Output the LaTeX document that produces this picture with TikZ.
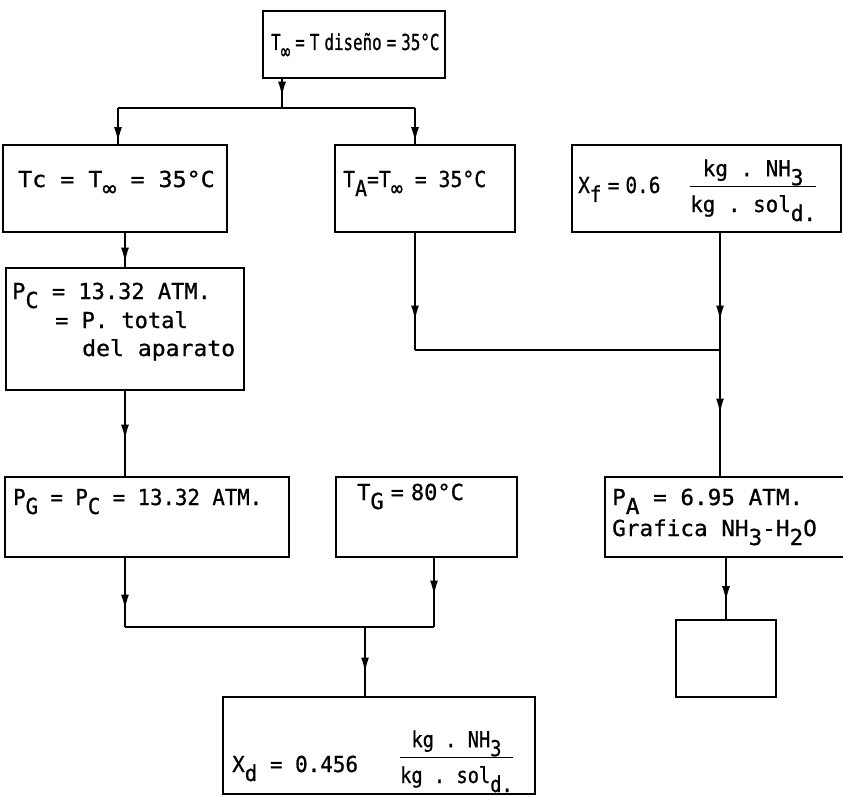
\documentclass[tikz,border=0pt]{standalone}
\usepackage{fontspec}
\setmonofont[FakeBold=0.8,AutoFakeBold=0.8]{DejaVu Sans Mono}
\usetikzlibrary{arrows.meta,decorations.markings,fit}

% lowered index, typewriter style
\newcommand{\dn}[1]{\raisebox{-9pt}{#1}}
% quotient with a rule between two lines
\newcommand{\ratio}[2]{%
  \begin{tabular}[b]{@{}c@{}}#1\\[1pt]\hline\rule{0pt}{25pt}#2\end{tabular}}
% horizontal squeeze of a typed line
\newcommand{\sx}[2]{\scalebox{#1}[1]{#2}}
% narrow typed space
\newcommand{\hs}{\hspace{7pt}}
\setlength{\arrayrulewidth}{1.5pt}

\begin{document}
\begin{tikzpicture}[x=1pt, y=-1pt,
    box/.style={draw, line width=1.8pt, inner sep=0pt, outer sep=0pt},
    txt/.style={font=\ttfamily\fontsize{22}{24}\selectfont, inner sep=0pt, anchor=base west},
    link/.style={line width=1.8pt},
    flow/.style={line width=1.8pt, postaction={decorate},
      decoration={markings, mark=at position #1 with {\arrow{Latex[length=15pt,width=8pt]}}}},
    flow/.default=0.6]
    \useasboundingbox (0,0) rectangle (843,797);

    % Boxes
    \node[box, fit={(263,11) (445,78)}] (top) {};
    \node[box, fit={(3,145) (227,232)}] (tc) {};
    \node[box, fit={(335,145) (515,232)}] (ta) {};
    \node[box, fit={(572,145) (841,232)}] (xf) {};
    \node[box, fit={(6,268) (244,390)}] (pc) {};
    \node[box, fit={(5,477) (289,557)}] (pg) {};
    \node[box, fit={(336,477) (517,557)}] (tg) {};
    \node[box, fit={(605,477) (850,557)}] (pa) {};
    \node[box, fit={(676,620) (776,697)}] (out) {};
    \node[box, fit={(223,697) (535,794)}] (xd) {};

    % Texts
    \node[txt] (ttop) at (271,50) {\sx{0.72}{T\dn{∞}\hs=\hs T\hs diseño\hs=\hs 35°C}};
    \node[txt] (ttc) at (18,187) {\sx{1.06}{Tc = T\dn{∞} = 35°C}};
    \node[txt] (tta) at (343,187) {\sx{0.9}{T\dn{A}=T\dn{∞} = 35°C}};
    \node[txt] (txf) at (578,193) {\sx{0.88}{X\dn{f}\hs=\hs 0.6}};
    \node[txt] (fxf) at (690,212) {\sx{0.95}{\ratio{kg . NH\dn{3}}{kg . sol\dn{d.}}}};
    \node[txt] (tpc1) at (12,299) {P\dn{C} = 13.32 ATM.};
    \node[txt] (tpc2) at (55,328) {= P. total};
    \node[txt] (tpc3) at (82,356) {\sx{1.05}{del aparato}};
    \node[txt] (tpg) at (13,505) {\sx{0.94}{P\dn{G} = P\dn{C} = 13.32 ATM.}};
    \node[txt] (ttg) at (357,500) {T\dn{G}\hs=\hs 80°C};
    \node[txt] (tpa1) at (612,505) {\sx{1.03}{P\dn{A} = 6.95 ATM.}};
    \node[txt] (tpa2) at (612,536) {\sx{1.03}{Grafica NH\dn{3}-H\dn{2}O}};
    \node[txt] (txd) at (232,772) {\sx{0.95}{X\dn{d} = 0.456}};
    \node[txt] (fxd) at (400,783) {\sx{0.85}{\ratio{kg . NH\dn{3}}{kg . sol\dn{d.}}}};

    % Junctions
    \coordinate (j0) at (282,108);
    \coordinate (jl) at (118,108);
    \coordinate (jr) at (415,108);
    \coordinate (ja) at (415,350);
    \coordinate (jf) at (720,350);
    \coordinate (jg) at (125,627);
    \coordinate (jt) at (434,627);
    \coordinate (jx) at (365,627);

    % Connectors
    \draw[flow=0.62] (top.south -| j0) -- (j0);
    \draw[link] (jl) -- (jr);
    \draw[flow=0.92] (jl) -- (jl |- tc.north);
    \draw[flow=0.92] (jr) -- (jr |- ta.north);
    \draw[flow=0.85] (tc.south -| pc.north) -- (pc.north);
    \draw[flow=0.75] (ta.south -| ja) -- (ja);
    \draw[flow=0.75] (xf.south -| jf) -- (jf);
    \draw[link] (ja) -- (jf);
    \draw[flow=0.5] (jf) -- (jf |- pa.north);
    \draw[flow=0.57] (pc.south) -- (pc.south |- pg.north);
    \draw[flow=0.75] (pg.south -| jg) -- (jg);
    \draw[flow=0.55] (tg.south -| jt) -- (jt);
    \draw[link] (jg) -- (jt);
    \draw[flow=0.65] (jx) -- (jx |- xd.north);
    \draw[flow=0.7] (pa.south -| out.north) -- (out.north);
\end{tikzpicture}
\end{document}
